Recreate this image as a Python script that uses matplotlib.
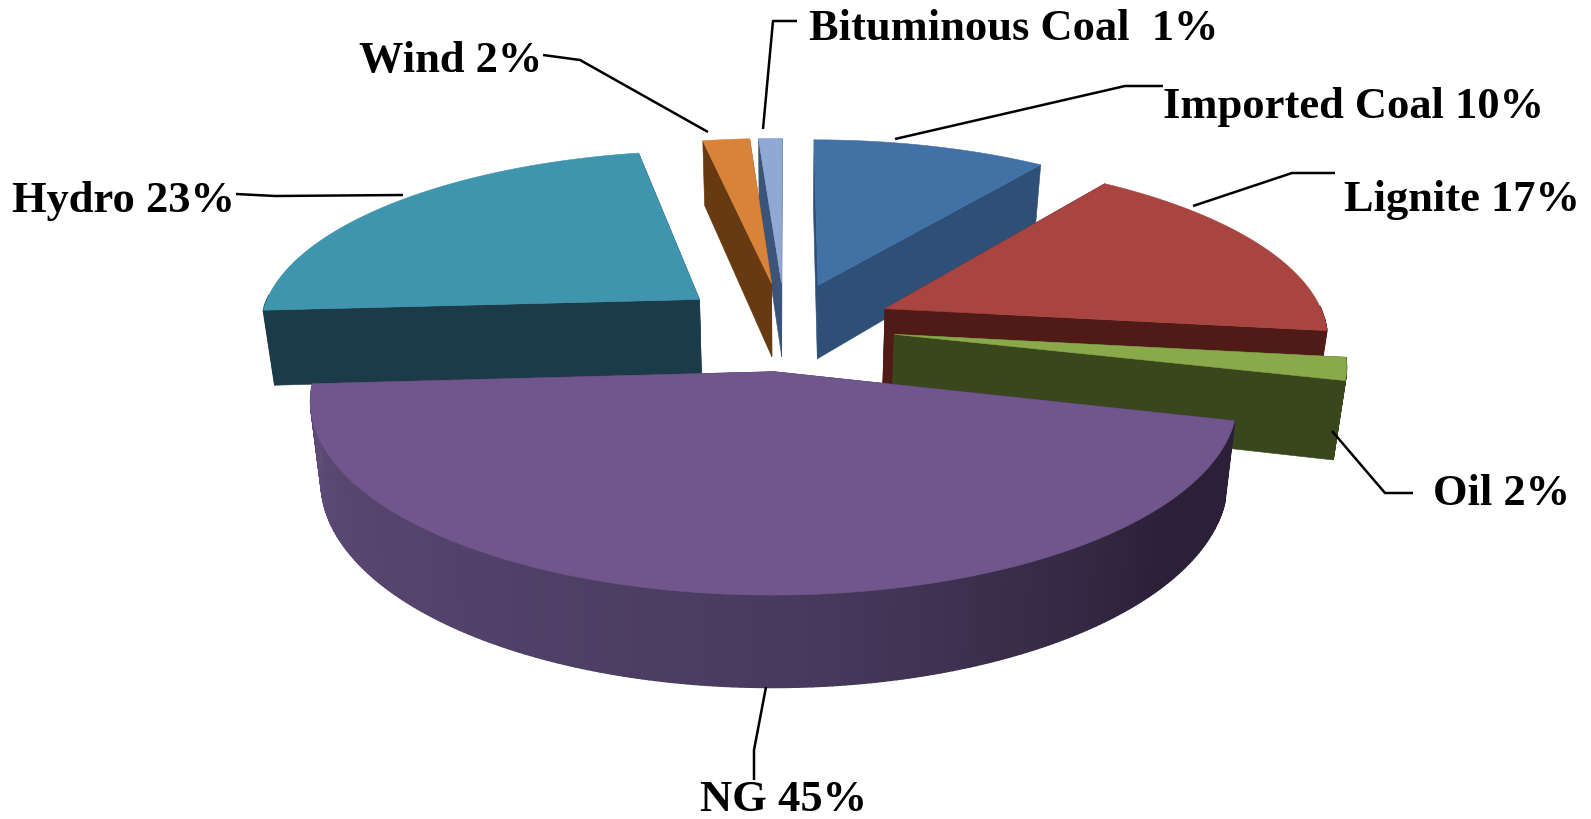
import numpy as np
import matplotlib
matplotlib.use("Agg")
import matplotlib.pyplot as plt
from matplotlib.colors import to_rgb

# data (clockwise from 12 o'clock)
categories = ["Imported Coal", "Lignite", "Oil", "NG", "Hydro", "Wind", "Bituminous Coal"]
shares = [10, 17, 2, 45, 23, 2, 1]
labels = ["Imported Coal 10%", "Lignite 17%", "Oil 2%", "NG 45%", "Hydro 23%", "Wind 2%", "Bituminous Coal  1%"]

# styles
top_colors = ["#4271a6", "#a84541", "#89a94b", "#70568c", "#3f94ae", "#d9833a", "#8fa8d4"]
side_colors = ["#2d4f78", "#501b17", "#3a471d", "#3a2c50", "#1a3b47", "#683a12", "#3c5478"]
draw_order = [6, 5, 0, 1, 4, 2, 3]

# view
CX, CY, R, B, DIST, DEPTH, EXPLODE = 785, 327, 442, 177, 7.0, 76, 0.25
NG_SIDE = ("#5f4b78", "#483a5e", "#2b2038")

# label layout: left x, baseline y, leader line pixels
text_pos = [(1163, 118), (1344, 211), (1433, 505), (700, 811), (12, 212), (359, 72), (809, 40)]
leaders = [
    [(895, 140), (1125, 87), (1163, 87)],
    [(1193, 207), (1292, 174), (1335, 174)],
    [(1332, 432), (1385, 494), (1413, 494)],
    [(766, 688), (754, 751), (754, 781)],
    [(403, 196), (275, 197), (236, 195)],
    [(708, 133), (580, 61), (543, 56)],
    [(763, 130), (773, 22), (797, 22)],
]


def project(x, y, z=0.0):
    """x right, y back, z fraction of pie thickness downwards -> pixels."""
    s = DIST / (DIST + y)
    return (CX + R * x * s * (1 - 0.022 * z), CY - B * y * s + DEPTH * z * s)


def mix(a, b, t):
    a, b = np.array(to_rgb(a)), np.array(to_rgb(b))
    return tuple(a + (b - a) * t)


fig = plt.figure(figsize=(15.91, 8.20), dpi=100, facecolor="white")
ax = fig.add_axes([0, 0, 1, 1])
ax.set_xlim(0, 1591)
ax.set_ylim(820, 0)
ax.axis("off")

total = sum(shares)
edges = np.concatenate([[0], np.cumsum(shares)]) / total * 2 * np.pi

for i in draw_order:
    a0, a1 = edges[i], edges[i + 1]
    mid = (a0 + a1) / 2
    ex, ey = EXPLODE * np.sin(mid), EXPLODE * np.cos(mid)
    th = np.linspace(a0, a1, max(int((a1 - a0) * 80), 6))
    rx, ry = ex + np.sin(th), ey + np.cos(th)

    # radial faces, the one further back first
    for a in sorted([a0, a1], key=lambda v: -np.cos(v)):
        px, py = ex + np.sin(a), ey + np.cos(a)
        quad = [project(ex, ey, 0), project(px, py, 0), project(px, py, 1), project(ex, ey, 1)]
        ax.fill(*zip(*quad), color=side_colors[i], lw=0.4, zorder=1)

    # outer wall, only where it faces the viewer
    for k in range(len(th) - 1):
        tm = (th[k] + th[k + 1]) / 2
        if np.cos(tm) > 0.02:
            continue
        quad = [project(rx[k], ry[k], 0), project(rx[k + 1], ry[k + 1], 0),
                project(rx[k + 1], ry[k + 1], 1), project(rx[k], ry[k], 1)]
        if categories[i] == "NG":
            # left side (late angles) is lighter, right side darker
            u = (tm - a0) / (a1 - a0)
            if u < 0.45:
                c = mix(NG_SIDE[2], NG_SIDE[1], max(u - 0.15, 0) / 0.30)
            else:
                c = mix(NG_SIDE[1], NG_SIDE[0], (u - 0.45) / 0.55)
        else:
            c = side_colors[i]
        ax.fill(*zip(*quad), color=c, lw=1.0, zorder=1)

    # top
    top = [project(ex, ey, 0)] + [project(a, b, 0) for a, b in zip(rx, ry)]
    ax.fill(*zip(*top), color=top_colors[i], lw=0.4, zorder=1)

for label, (tx, ty), line in zip(labels, text_pos, leaders):
    ax.plot(*zip(*line), color="black", lw=1.8, solid_capstyle="butt", zorder=3)
    ax.text(tx, ty, label, family="Liberation Serif", weight="bold", fontsize=32,
            color="black", ha="left", va="baseline", zorder=4)

fig.savefig("out.png", dpi=100, facecolor="white")
